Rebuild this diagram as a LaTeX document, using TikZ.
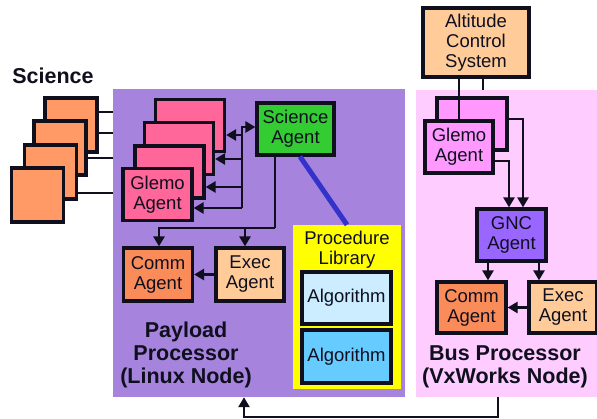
\documentclass[tikz,border=0pt]{standalone}
\usepackage{fontspec}
\setmainfont{Liberation Sans}
\usetikzlibrary{arrows.meta}
\pgfdeclarelayer{bg}
\pgfdeclarelayer{wires}
\pgfsetlayers{bg,wires,main}
\definecolor{payloadbg}{RGB}{166,131,221}
\definecolor{busbg}{RGB}{255,204,255}
\definecolor{sciorange}{RGB}{255,153,102}
\definecolor{glemopink}{RGB}{255,102,153}
\definecolor{glemolilac}{RGB}{255,153,255}
\definecolor{agentgreen}{RGB}{51,204,51}
\definecolor{commorange}{RGB}{250,140,90}
\definecolor{peach}{RGB}{255,204,153}
\definecolor{gncpurple}{RGB}{153,102,255}
\definecolor{libyellow}{RGB}{255,255,0}
\definecolor{algolight}{RGB}{204,236,255}
\definecolor{algodark}{RGB}{102,204,255}
\definecolor{linkblue}{RGB}{51,51,204}
\definecolor{ink}{RGB}{15,15,30}
\begin{document}
\begin{tikzpicture}[x=1pt,y=-1pt,
  box/.style={draw=ink, line width=3.2pt, minimum width=69pt, minimum height=52pt,
    inner sep=0pt, align=center, text=ink, font=\fontsize{18.5}{20}\selectfont},
  title/.style={align=center, text=ink, font=\fontsize{21.5}{23}\selectfont\bfseries},
  wire/.style={draw=ink, line width=2.8pt},
  arr/.style={wire, -{Triangle[length=10pt,width=11pt]}}]
\useasboundingbox (0,0) rectangle (597,419);

% processor regions
\node[fill=payloadbg, minimum width=292pt, minimum height=308pt, inner sep=0pt] (pl) at (259,243) {};
\node[fill=busbg, minimum width=184pt, minimum height=307pt, inner sep=0pt] (bus) at (508,243.5) {};

\node[title] (scilabel) at (53,76) {Science};

% science instruments, back to front
\node[box, fill=sciorange, minimum width=52pt, minimum height=54pt] (sq1) at (71,125) {};
\node[box, fill=sciorange, minimum width=52pt, minimum height=54pt] (sq2) at (60,148) {};
\node[box, fill=sciorange, minimum width=52pt, minimum height=54pt] (sq3) at (50.5,172) {};
\node[box, fill=sciorange, minimum width=52pt, minimum height=54pt] (sq4) at (37.5,195) {};

% payload glemo agents, back to front
\node[box, fill=glemopink] (p1) at (190,125.5) {};
\node[box, fill=glemopink] (p2) at (179,148.5) {};
\node[box, fill=glemopink] (p3) at (169.5,172) {};
\node[box, fill=glemopink] (p4) at (157.5,194.5) {Glemo\\Agent};

\node[box, fill=agentgreen, minimum width=77pt] (sci) at (295.5,129) {Science\\Agent};
\node[box, fill=commorange, minimum height=53pt] (comm1) at (158,274.5) {Comm\\Agent};
\node[box, fill=peach, minimum width=68pt, minimum height=53pt] (exec1) at (250,274.5) {Exec\\Agent};

% procedure library
\node[fill=libyellow, minimum width=108pt, minimum height=164pt, inner sep=0pt] (lib) at (347,307) {};
\node[align=center, text=ink, font=\fontsize{18.5}{20}\selectfont] (libtitle) at (347,250) {Procedure\\Library};
\node[box, fill=algolight, minimum width=89pt] (alg1) at (346.5,298) {Algorithm};
\node[box, fill=algodark, minimum width=89pt, minimum height=53pt] (alg2) at (346.5,356.5) {Algorithm};

\node[title] (pltitle) at (186,355) {Payload\\Processor\\(Linux Node)};

% bus processor
\node[box, fill=peach, minimum width=106pt, minimum height=69pt] (acs) at (476,42.5) {Altitude\\Control\\System};
\node[box, fill=glemolilac, minimum width=70pt] (bg1) at (472,124) {};
\node[box, fill=glemolilac, minimum width=68pt] (bg2) at (459,147) {Glemo\\Agent};
\node[box, fill=gncpurple] (gnc) at (511.5,235) {GNC\\Agent};
\node[box, fill=commorange, minimum height=51pt] (comm2) at (471.5,307.5) {Comm\\Agent};
\node[box, fill=peach, minimum width=68pt, minimum height=51pt] (exec2) at (563,307.5) {Exec\\Agent};

\node[title] (bustitle) at (505,366.5) {Bus Processor\\(VxWorks Node)};

% instrument links run behind the boxes
\begin{pgfonlayer}{wires}
  \draw[wire] ([yshift=13pt]sq1.east) -- ([yshift=13pt]sq1.east -| p1.west);
  \draw[wire] ([yshift=15pt]sq2.east) -- ([yshift=15pt]sq2.east -| p2.west);
  \draw[wire] ([yshift=14pt]sq3.east) -- ([yshift=14pt]sq3.east -| p3.west);
  \draw[wire] ([yshift=2pt]sq4.east) -- ([yshift=2pt]sq4.east -| p4.west);
  \draw[wire] ([xshift=11pt]bg1.north) -- ([xshift=11pt]bg1.north |- acs.south);
\end{pgfonlayer}

% science agent fan-out to glemo agents
\coordinate (jt) at (242,127);
\coordinate (jb) at (242,208);
\coordinate (j1) at (242,135);
\coordinate (j2) at (243,159);
\coordinate (j3) at (243,187);
\draw[arr] (jb) -- (jt) -- (jt -| sci.west);
\draw[arr] (jb) -- (jb -| p4.east);
\draw[arr] (j1) -- (j1 -| p1.east);
\draw[arr] (j2) -- (j2 -| p2.east);
\draw[arr] (j3) -- (j3 -| p3.east);

% science agent to comm and exec
\coordinate (sj) at (275,228);
\draw[wire] (sj |- sci.south) -- (sj);
\draw[arr] (sj) -| ([xshift=1pt]comm1.north);
\draw[arr] (sj) -| ([xshift=-5pt]exec1.north);
\draw[arr] (exec1.west) -- (comm1.east);

% science agent uses the procedure library
\draw[draw=linkblue, line width=5pt] ([xshift=4.5pt]sci.south) -- (lib.north);

% bus processor links
\draw[wire] (bg2.north) -- (bg2.north |- acs.south);
\coordinate (k1) at (523,119);
\coordinate (k2) at (509,161);
\draw[arr] (k1 -| bg1.east) -- (k1) -- (k1 |- gnc.north);
\draw[arr] (k2 -| bg2.east) -- (k2) -- (k2 |- gnc.north);
\draw[arr] ([xshift=-23.5pt]gnc.south) -- ([xshift=-23.5pt]gnc.south |- comm2.north);
\draw[arr] ([xshift=27.5pt]gnc.south) -- ([xshift=27.5pt]gnc.south |- exec2.north);
\draw[arr] (exec2.west) -- (comm2.east);

% link between the two processors
\coordinate (bb) at (498,417);
\coordinate (pb) at (244,417);
\draw[arr] (bb |- bus.south) -- (bb) -- (pb) -- (pb |- pl.south);
\end{tikzpicture}
\end{document}
